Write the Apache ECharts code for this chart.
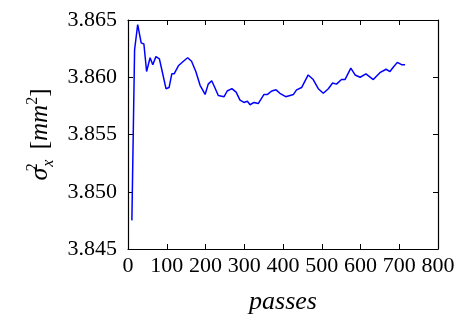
<!DOCTYPE html>
<html>
<head>
<meta charset="utf-8">
<script src="https://cdn.jsdelivr.net/npm/echarts@6/dist/echarts.min.js"></script>
<style>
  html, body { margin: 0; padding: 0; background: #fff; }
  #chart { width: 460px; height: 320px; }
</style>
</head>
<body>
<div id="chart"></div>
<script>
// passes vs sigma_x^2
const passes = [
  10, 17, 25, 34, 41, 48, 57, 64, 72, 81, 87, 98, 106, 113, 119, 130, 143, 154,
  164, 175, 186, 199, 207, 216, 224, 233, 248, 256, 268, 279, 289, 299, 308,
  315, 325, 336, 351, 360, 371, 382, 392, 407, 427, 435, 448, 465, 478, 491,
  504, 517, 528, 538, 551, 560, 575, 586, 599, 614, 633, 650, 666, 676, 685,
  695, 706, 715
];
const sigma2 = [
  3.8475, 3.8624, 3.8646, 3.8630, 3.8629, 3.8605, 3.8617, 3.8611, 3.8618,
  3.8616, 3.8607, 3.8590, 3.8591, 3.8603, 3.8603, 3.8610, 3.8614, 3.8617,
  3.8614, 3.8605, 3.8593, 3.8585, 3.8594, 3.8597, 3.8591, 3.8584, 3.8583,
  3.8588, 3.8590, 3.8587, 3.8580, 3.8578, 3.8579, 3.8576, 3.8578, 3.8577,
  3.8585, 3.8585, 3.8588, 3.8589, 3.8586, 3.8583, 3.8585, 3.8589, 3.8591,
  3.8602, 3.8598, 3.8590, 3.8586, 3.8590, 3.8595, 3.8594, 3.8598, 3.8598,
  3.8608, 3.8602, 3.8600, 3.8603, 3.8598, 3.8604, 3.8607, 3.8605, 3.8609,
  3.8613, 3.8611, 3.8611
];

const xMin = 0, xMax = 800, xStep = 100;
const yMin = 3.845, yMax = 3.865, yStep = 0.005;

const font = "'Liberation Serif', serif";
const chart = echarts.init(document.getElementById("chart"));

// fresh objects for each axis
const tick = () => ({ show: true, inside: true, length: 5, lineStyle: { color: "#000", width: 1 } });
const line = () => ({ show: true, onZero: false, lineStyle: { color: "#000", width: 1.2 } });

chart.setOption({
  animation: false,
  grid: { left: 128, right: 22, top: 20, bottom: 68 },
  xAxis: [
    {
      type: "value", min: xMin, max: xMax, interval: xStep,
      axisLine: line(), axisTick: tick(), splitLine: { show: false },
      axisLabel: { color: "#000", fontFamily: font, fontSize: 22, margin: 6 },
      name: "passes", nameLocation: "middle", nameGap: 40,
      nameTextStyle: { color: "#000", fontFamily: font, fontSize: 26, fontStyle: "italic" },
    },
    {
      type: "value", position: "top", min: xMin, max: xMax, interval: xStep,
      axisLine: line(), axisTick: tick(), axisLabel: { show: false }, splitLine: { show: false },
    },
  ],
  yAxis: [
    {
      type: "value", min: yMin, max: yMax, interval: yStep,
      axisLine: line(), axisTick: tick(), splitLine: { show: false },
      axisLabel: {
        color: "#000", fontFamily: font, fontSize: 22, margin: 11,
        formatter: (v) => v.toFixed(3),
      },
      name: "{s|σ}{sup|2}{sub|x} {n|[}{i|mm}{sup2|2}{n|]}",
      nameLocation: "middle", nameGap: 68, nameRotate: 90,
      nameTextStyle: {
        color: "#000", fontFamily: font, fontSize: 25,
        rich: {
          s: { fontFamily: font, fontSize: 26, fontStyle: "italic", color: "#000", lineHeight: 32, verticalAlign: "middle" },
          sup: { fontFamily: font, fontSize: 16, color: "#000", lineHeight: 32, verticalAlign: "top", width: 1 },
          sub: { fontFamily: font, fontSize: 16, fontStyle: "italic", color: "#000", lineHeight: 32, verticalAlign: "bottom", padding: [0, 4, 0, 0] },
          sup2: { fontFamily: font, fontSize: 16, color: "#000", lineHeight: 32, verticalAlign: "top" },
          n: { fontFamily: font, fontSize: 25, color: "#000", lineHeight: 32, verticalAlign: "middle" },
          i: { fontFamily: font, fontSize: 25, fontStyle: "italic", color: "#000", lineHeight: 32, verticalAlign: "middle" },
        },
      },
    },
    {
      type: "value", position: "right", min: yMin, max: yMax, interval: yStep,
      axisLine: line(), axisTick: tick(), axisLabel: { show: false }, splitLine: { show: false },
    },
  ],
  series: [
    {
      type: "line",
      data: passes.map((p, i) => [p, sigma2[i]]),
      showSymbol: false,
      lineStyle: { color: "#0000ff", width: 1.5 },
    },
  ],
});
</script>
</body>
</html>
